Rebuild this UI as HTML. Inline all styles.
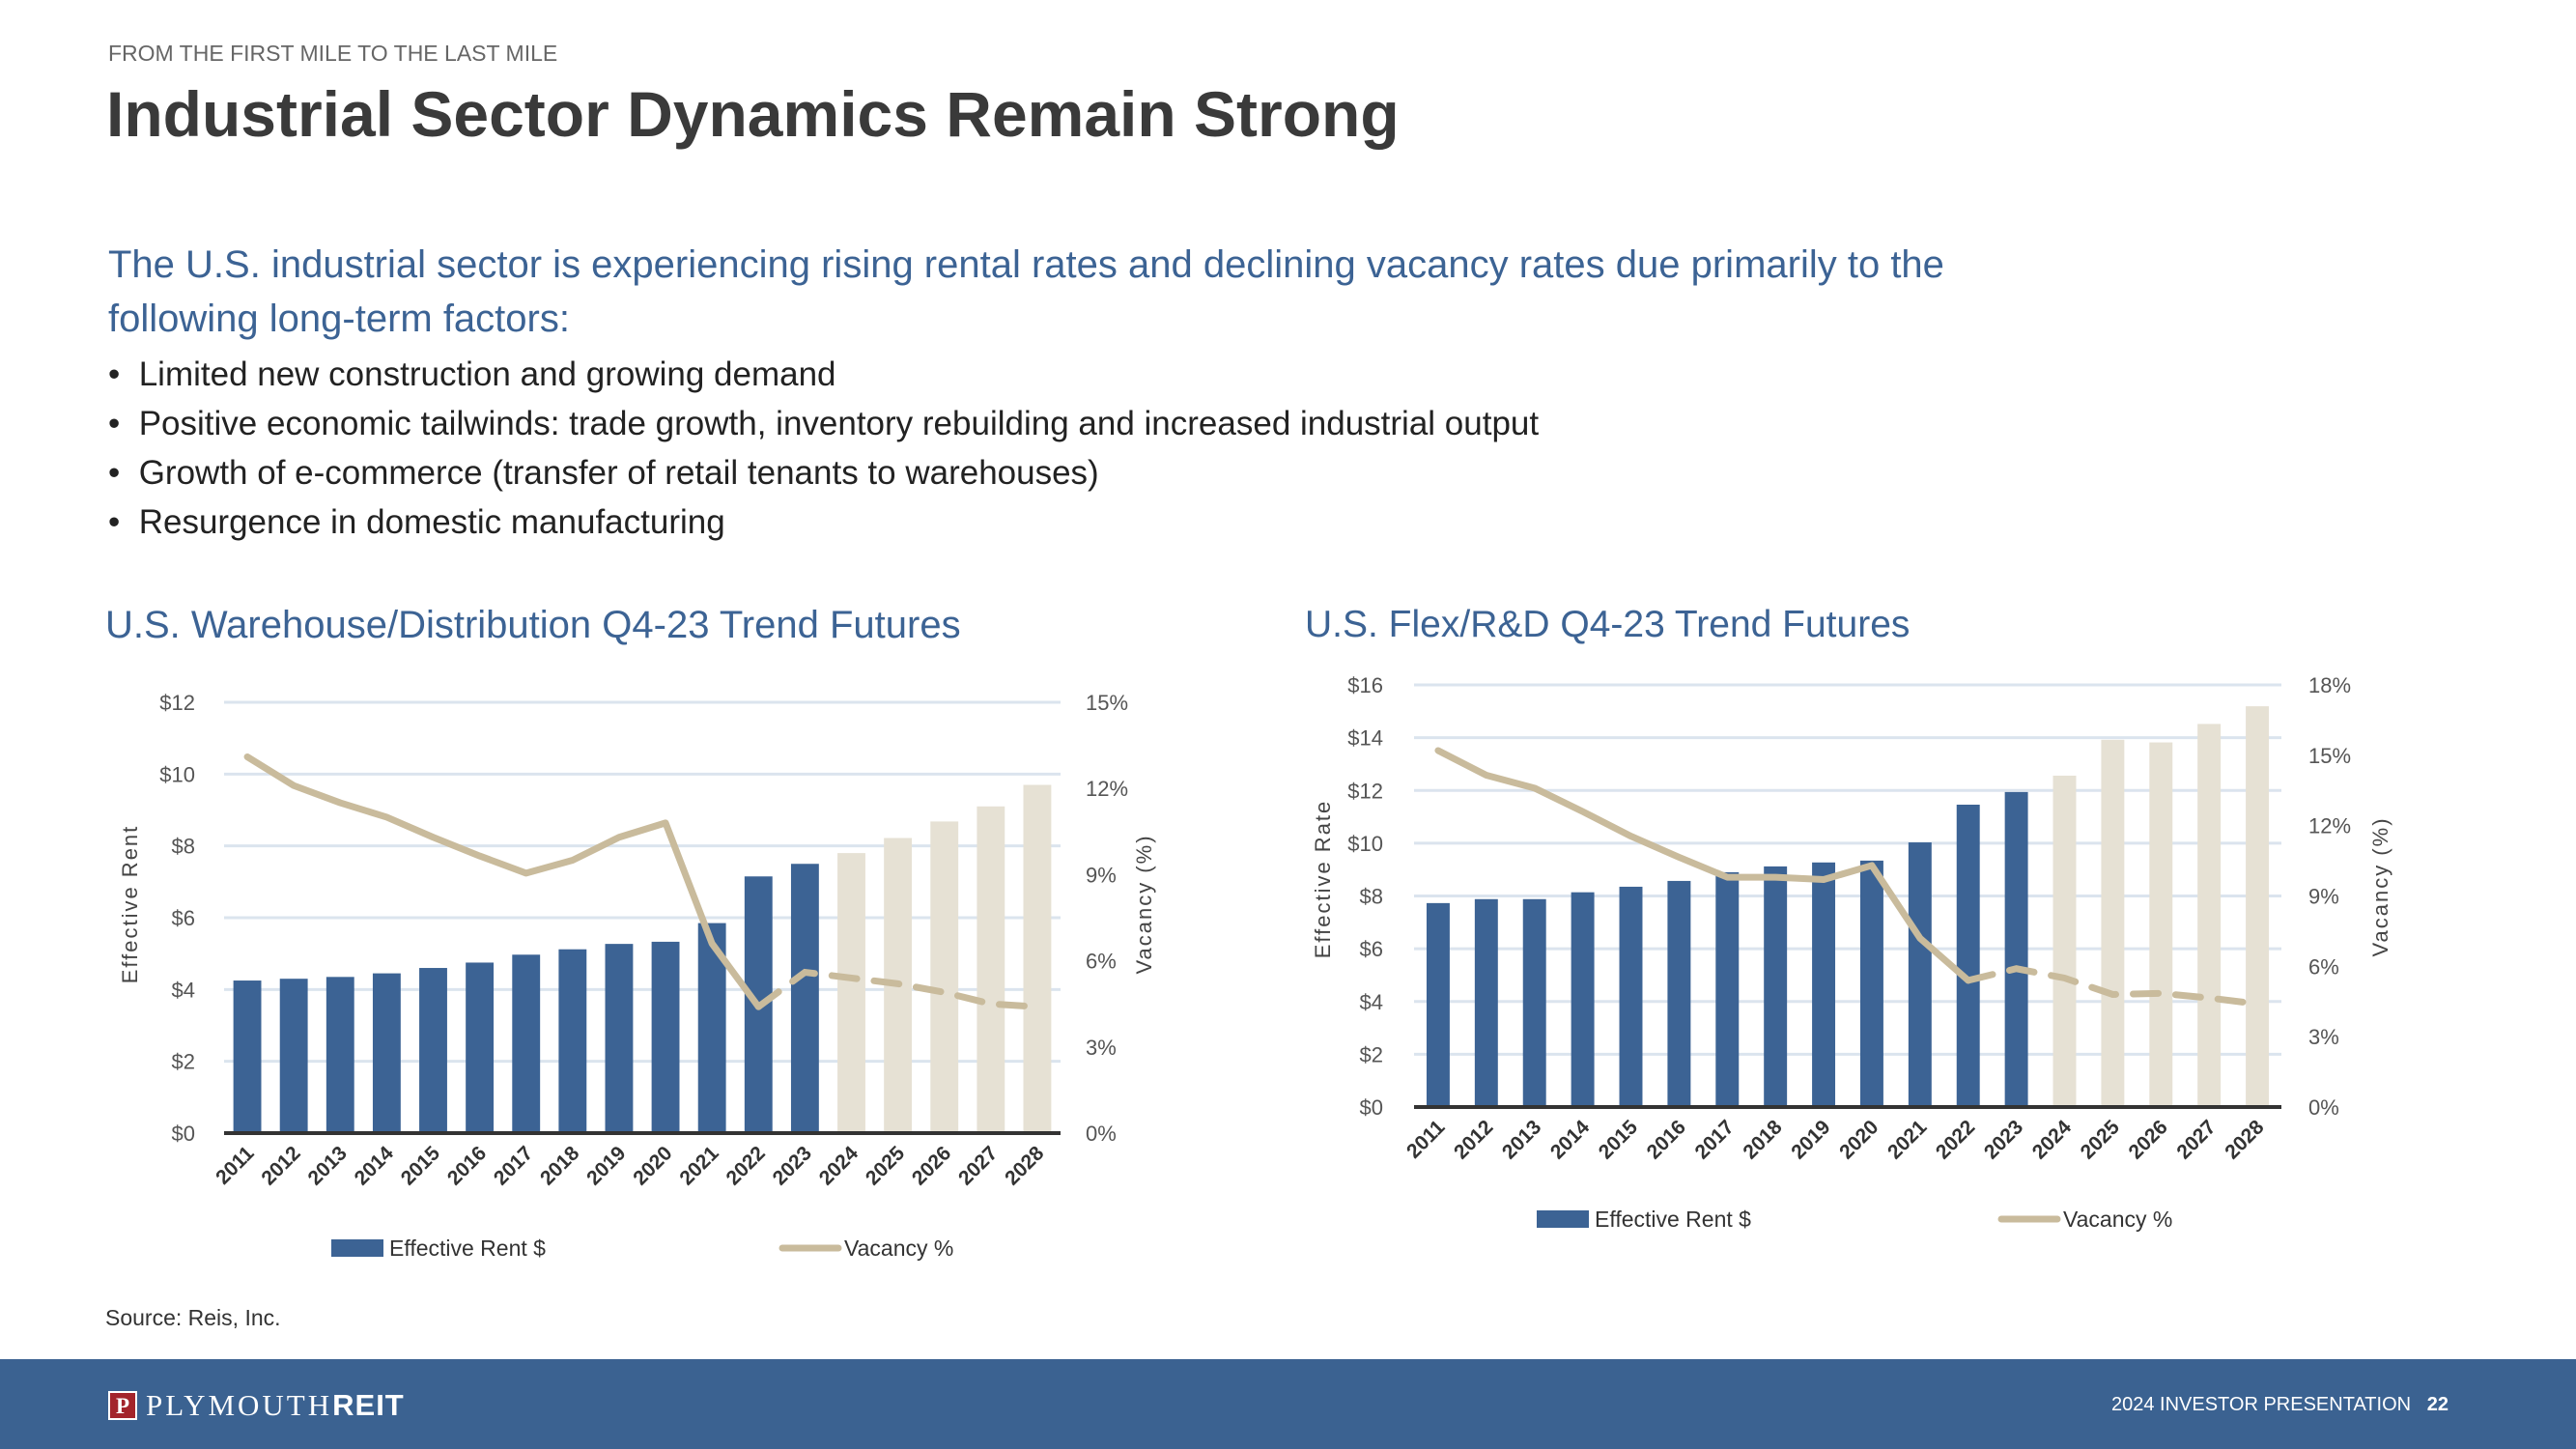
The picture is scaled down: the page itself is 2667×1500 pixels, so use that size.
<!DOCTYPE html>
<html><head><meta charset="utf-8"><style>
body{margin:0;width:2667px;height:1500px;position:relative;overflow:hidden;background:#fff;font-family:"Liberation Sans",sans-serif}
.t{position:absolute;white-space:nowrap;margin:0}
</style></head><body>
<div class="t" style="left:112px;top:42px;font-size:23px;color:#666">FROM THE FIRST MILE TO THE LAST MILE</div>
<div class="t" style="left:110px;top:80px;font-size:66px;font-weight:bold;color:#3a3a3a">Industrial Sector Dynamics Remain Strong</div>
<div class="t" style="left:112px;top:246px;font-size:40px;color:#3c6394;line-height:56px">The U.S. industrial sector is experiencing rising rental rates and declining vacancy rates due primarily to the<br>following long-term factors:</div>
<div class="t" style="left:112px;top:362px;font-size:35px;color:#222;line-height:51px">
<div>•&nbsp;&nbsp;Limited new construction and growing demand</div>
<div>•&nbsp;&nbsp;Positive economic tailwinds: trade growth, inventory rebuilding and increased industrial output</div>
<div>•&nbsp;&nbsp;Growth of e-commerce (transfer of retail tenants to warehouses)</div>
<div>•&nbsp;&nbsp;Resurgence in domestic manufacturing</div>
</div>
<div class="t" style="left:109px;top:625px;font-size:40px;color:#3c6394">U.S. Warehouse/Distribution Q4-23 Trend Futures</div>
<div class="t" style="left:1351px;top:625px;font-size:39px;color:#3c6394">U.S. Flex/R&amp;D Q4-23 Trend Futures</div>
<div class="t" style="left:109px;top:1351px;font-size:23px;color:#333">Source: Reis, Inc.</div>
<div style="position:absolute;left:0;top:1407px;width:2667px;height:93px;background:#3b6291"></div>
<div class="t" style="left:112px;top:1438px;height:34px;display:flex;align-items:center;color:#fff">
<span style="display:inline-block;width:30px;height:30px;background:#a3242b;border:2px solid #fff;box-sizing:border-box;color:#fff;font-family:'Liberation Serif',serif;font-weight:bold;font-size:23px;text-align:center;line-height:27px">P</span>
<span style="font-family:'Liberation Serif',serif;font-size:31px;letter-spacing:3px;margin-left:9px">PLYMOUTH</span><span style="font-weight:bold;font-size:31px;letter-spacing:1px">REIT</span></div>
<div class="t" style="right:132px;top:1443px;font-size:20px;color:#fff">2024 INVESTOR PRESENTATION&nbsp;&nbsp;&nbsp;<b>22</b></div>
<svg id="svg" width="2667" height="1500" style="position:absolute;left:0;top:0" xmlns="http://www.w3.org/2000/svg"></svg>
<script>
const years=['2011','2012','2013','2014','2015','2016','2017','2018','2019','2020','2021','2022','2023','2024','2025','2026','2027','2028'];
const rent1=[4.25,4.3,4.35,4.45,4.6,4.75,4.97,5.12,5.27,5.33,5.85,7.15,7.5,7.8,8.22,8.68,9.1,9.7];
const vac1=[13.1,12.1,11.5,11.0,10.3,9.65,9.05,9.5,10.3,10.8,6.6,4.4,5.6,5.4,5.2,4.9,4.5,4.4];
const rent2=[7.73,7.88,7.88,8.14,8.35,8.57,8.9,9.12,9.27,9.34,10.03,11.46,11.94,12.56,13.92,13.82,14.52,15.19];
const vac2=[15.2,14.15,13.6,12.6,11.55,10.65,9.8,9.8,9.7,10.3,7.2,5.4,5.9,5.5,4.8,4.85,4.65,4.4];
const leftTicks1=['$0','$2','$4','$6','$8','$10','$12'];
const rightTicks1=['0%','3%','6%','9%','12%','15%'];
const leftTicks2=['$0','$2','$4','$6','$8','$10','$12','$14','$16'];
const rightTicks2=['0%','3%','6%','9%','12%','15%','18%'];
const forecastStart=13;
const svg=document.getElementById('svg');
const NS='http://www.w3.org/2000/svg';
function mk(t,a,p){const e=document.createElementNS(NS,t);for(const k in a)e.setAttribute(k,a[k]);(p||svg).appendChild(e);return e;}
function chart(c){
  const g=mk('g',{});
  
  
  const n=c.cats.length, cw=(c.x1-c.x0)/n;
  const yL=v=>c.y0-(v/c.lmax)*(c.y0-c.y1);
  const yR=v=>c.y0-(v/c.rmax)*(c.y0-c.y1);
  const xC=i=>c.x0+cw*(i+0.5);
  c.lt.forEach((t,i)=>{const v=i*c.lstep;const y=yL(v);
    if(i>0){const l=mk('line',{x1:c.x0,x2:c.x1,y1:y,y2:y,stroke:'#dbe4ee','stroke-width':3},g);}
    const tx=mk('text',{x:c.lx,y:y+8,'text-anchor':'end','font-size':22,fill:'#555'},g);tx.textContent=t;
    });
  c.rt.forEach((t,i)=>{const y=yR(i*c.rstep);
    const tx=mk('text',{x:c.rx,y:y+8,'font-size':22,fill:'#555'},g);tx.textContent=t;
    });
  const bw=cw*c.bw;
  c.rent.forEach((v,i)=>{const r=mk('rect',{x:xC(i)-bw/2,y:yL(v),width:bw,height:c.y0-yL(v),fill:i>=forecastStart?'#e6e1d4':'#3c6394'},g);
    });
  const ax=mk('line',{x1:c.x0,x2:c.x1,y1:c.y0,y2:c.y0,stroke:'#333','stroke-width':4},g);
  
  const sp=c.vac.slice(0,12).map((v,i)=>xC(i)+','+yR(v)).join(' ');
  const dp=c.vac.slice(11).map((v,i)=>xC(i+11)+','+yR(v)).join(' ');
  const l1=mk('polyline',{points:sp,fill:'none',stroke:'#c9bb9c','stroke-width':7,'stroke-linejoin':'round','stroke-linecap':'round'},g);
  
  const l2=mk('polyline',{points:dp,fill:'none',stroke:'#c9bb9c','stroke-width':7,'stroke-dasharray':'26 18','stroke-linecap':'round'},g);
  
  c.cats.forEach((t,i)=>{const x=xC(i)+8,y=c.y0+22;
    const tx=mk('text',{x:x,y:y,'text-anchor':'end','font-size':21,'font-weight':'bold',fill:'#333',transform:`rotate(-45 ${x} ${y})`},g);tx.textContent=t;
    });
  const at=(t,x,y,nm)=>{const e=mk('text',{x:x,y:y,'text-anchor':'middle','font-size':22,fill:'#444','letter-spacing':2,transform:`rotate(-90 ${x} ${y})`},g);e.textContent=t;};
  at(c.ltitle,c.ltx,c.lty,'y-axis-title');at('Vacancy (%)',c.rtx,c.rty,'y2-axis-title');
  const lr=mk('rect',{x:c.lg1,y:c.lgy-9,width:54,height:18,fill:'#3c6394'},g);
  let e=mk('text',{x:c.lg1+60,y:c.lgy+8,'font-size':23,fill:'#333'},g);e.textContent='Effective Rent $';
  const ll=mk('line',{x1:c.lg2,x2:c.lg2+58,y1:c.lgy,y2:c.lgy,stroke:'#c9bb9c','stroke-width':7,'stroke-linecap':'round'},g);
  e=mk('text',{x:c.lg2+64,y:c.lgy+8,'font-size':23,fill:'#333'},g);e.textContent='Vacancy %';
}
chart({name:'warehouse-chart',cats:years,rent:rent1,vac:vac1,x0:232,x1:1098,y0:1173,y1:727,lmax:12,lstep:2,rmax:15,rstep:3,lt:leftTicks1,rt:rightTicks1,lx:202,rx:1124,bw:0.6,ltitle:'Effective Rent',ltx:142,lty:936,rtx:1192,rty:936,lg1:343,lg2:810,lgy:1292});
chart({name:'flex-chart',cats:years,rent:rent2,vac:vac2,x0:1464,x1:2362,y0:1146,y1:709,lmax:16,lstep:2,rmax:18,rstep:3,lt:leftTicks2,rt:rightTicks2,lx:1432,rx:2390,bw:0.48,ltitle:'Effective Rate',ltx:1377,lty:910,rtx:2472,rty:918,lg1:1591,lg2:2072,lgy:1262});
</script>
</body></html>
